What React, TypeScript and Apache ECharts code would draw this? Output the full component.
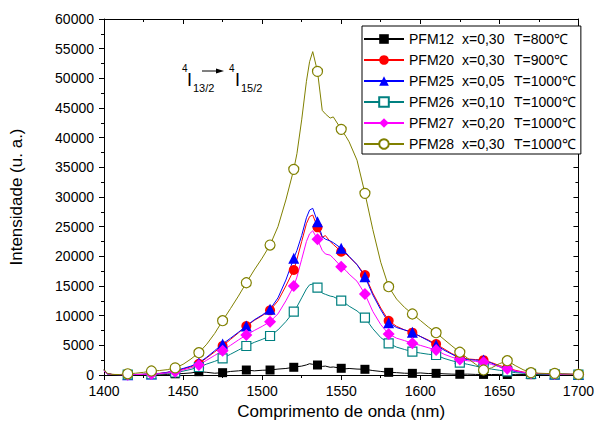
import React, { useEffect, useRef } from 'react';
import * as echarts from 'echarts';

// Wavelength grid (nm)
const wavelength = [
  1400, 1402, 1405, 1410, 1415, 1420, 1425, 1430, 1435, 1440, 1445, 1450, 1455, 1460, 1465, 1470,
  1475, 1480, 1485, 1490, 1495, 1500, 1505, 1510, 1515, 1520, 1522, 1525, 1528, 1530, 1532, 1535,
  1538, 1540, 1543, 1545, 1550, 1553, 1555, 1560, 1565, 1570, 1575, 1580, 1585, 1590, 1595, 1600,
  1605, 1610, 1615, 1620, 1625, 1630, 1635, 1640, 1645, 1650, 1655, 1660, 1665, 1670, 1675, 1680,
  1685, 1690, 1695, 1700,
];

// Wavelengths where the markers are drawn
const markerWavelengths = [
  1415, 1430, 1445, 1460, 1475, 1490, 1505, 1520, 1535, 1550, 1565, 1580, 1595, 1610, 1625, 1640,
  1655, 1670, 1685, 1700,
];

const pfm12 = [
  900, 200, 100, 50, 80, 50, 100, 80, 150, 100, 200, 250, 350, 560, 450, 300,
  390, 600, 700, 840, 700, 800, 840, 1000, 1100, 1300, 1400, 1500, 1700, 1900, 1800, 1685,
  1450, 1500, 1300, 1350, 1130, 1050, 1100, 1000, 960, 750, 600, 450, 400, 300, 280, 350,
  250, 280, 200, 150, 120, 150, 100, 100, 80, 100, 80, 60, 80, 50, 60, 50,
  40, 50, 40, 30,
];

const pfm20 = [
  800, 250, 100, 60, 70, 90, 130, 200, 280, 450, 700, 1000, 1400, 1900, 2900, 3900,
  4900, 6000, 7100, 8260, 9200, 10000, 10900, 12500, 15000, 17690, 19500, 22500, 25500, 26700, 26960, 24890,
  23200, 23500, 22500, 22000, 20780, 20400, 19900, 18600, 16850, 13800, 11300, 9150, 8200, 7600, 7130, 6500,
  5900, 5220, 4400, 3600, 3000, 2700, 2600, 2500, 2100, 1600, 1200, 800, 500, 350, 250, 200,
  180, 150, 120, 100,
];

const pfm25 = [
  800, 200, 80, 50, 60, 80, 120, 180, 250, 450, 750, 1100, 1500, 2070, 3000, 4100,
  5220, 6200, 7200, 8260, 9300, 10100, 11070, 13000, 16000, 19660, 21000, 23500, 26500, 27800, 28090, 25830,
  23300, 22900, 22600, 22300, 21350, 20600, 20000, 18600, 16560, 13500, 11000, 8810, 8000, 7600, 7200, 6500,
  5800, 5055, 4200, 3500, 2810, 2600, 2500, 2530, 2000, 1400, 900, 600, 400, 300, 250, 200,
  150, 150, 120, 100,
];

const pfm26 = [
  700, 200, 80, 50, 50, 60, 90, 130, 180, 280, 420, 650, 950, 1350, 1850, 2300,
  2810, 3500, 4200, 4890, 5500, 6000, 6570, 7600, 9000, 10670, 11500, 13000, 14500, 15200, 15330, 14710,
  13800, 13600, 13300, 13200, 12520, 12000, 11600, 10800, 9660, 7800, 6300, 5340, 4700, 4300, 3930, 3700,
  3500, 3370, 2800, 2400, 2070, 1800, 1500, 1200, 1000, 800, 600, 400, 300, 200, 150, 120,
  100, 100, 80, 80,
];

const pfm27 = [
  700, 200, 80, 50, 50, 70, 100, 150, 220, 350, 550, 850, 1200, 1680, 2500, 3300,
  4100, 5000, 5900, 6740, 7500, 8200, 8980, 10300, 12500, 15000, 16500, 19500, 22500, 23800, 24300, 22860,
  21000, 20400, 20200, 19700, 18250, 17600, 17000, 15800, 13650, 10700, 8500, 6910, 6200, 5800, 5340, 5000,
  4600, 4210, 3500, 3000, 2600, 2400, 2300, 2150, 1800, 1400, 1050, 700, 450, 300, 250, 200,
  150, 120, 100, 100,
];

const pfm28 = [
  900, 300, 100, 80, 200, 300, 450, 670, 750, 900, 1200, 1800, 2700, 3760, 5200, 7000,
  9150, 11200, 13300, 15550, 17700, 19700, 21900, 25000, 29500, 34660, 37300, 43000, 49500, 52800, 54500, 51170,
  44600, 44000, 43300, 43500, 41400, 40200, 39300, 36200, 30620, 24500, 19000, 14880, 12800, 11400, 10280, 9200,
  8100, 7130, 6000, 4900, 3830, 2800, 1800, 840, 1200, 1900, 2410, 1600, 900, 390, 300, 250,
  280, 200, 150, 100,
];

const sampleNames = ['PFM12', 'PFM20', 'PFM25', 'PFM26', 'PFM27', 'PFM28'];
const compositions = ['x=0,30', 'x=0,30', 'x=0,05', 'x=0,10', 'x=0,20', 'x=0,30'];
const temperatures = ['T=800℃', 'T=900℃', 'T=1000℃', 'T=1000℃', 'T=1000℃', 'T=1000℃'];
const seriesValues = [pfm12, pfm20, pfm25, pfm26, pfm27, pfm28];

const FONT = '"Liberation Sans", Arial, Helvetica, sans-serif';

const looks = [
  { color: '#000000', symbol: 'rect', size: 9, fill: '#000000' },
  { color: '#ff0000', symbol: 'circle', size: 10, fill: '#ff0000' },
  { color: '#0000ff', symbol: 'triangle', size: 11, fill: '#0000ff' },
  { color: '#008080', symbol: 'rect', size: 9, fill: '#ffffff' },
  { color: '#ff00ff', symbol: 'diamond', size: 12, fill: '#ff00ff' },
  { color: '#808000', symbol: 'circle', size: 10, fill: '#ffffff' },
];

export default function App() {
  const ref = useRef<HTMLDivElement>(null);

  useEffect(() => {
    document.body.style.margin = '0';
    if (!ref.current) return;
    const chart = echarts.init(ref.current, undefined, { renderer: 'svg' });
    const markerSet = new Set(markerWavelengths);

    const series = sampleNames.map((name, k) => {
      const lk = looks[k];
      const vals = seriesValues[k];
      return {
        name,
        type: 'line',
        xAxisIndex: 0,
        yAxisIndex: 0,
        showAllSymbol: true,
        symbol: lk.symbol,
        symbolSize: lk.size,
        lineStyle: { color: lk.color, width: 1 },
        itemStyle: { color: lk.fill, borderColor: lk.color, borderWidth: lk.fill === '#ffffff' ? 1.2 : 0 },
        emphasis: { disabled: true },
        data: wavelength.map((x, i) =>
          markerSet.has(x) ? [x, vals[i]] : { value: [x, vals[i]], symbol: 'none' }
        ),
      };
    });

    const axisLine = { show: true, onZero: false, lineStyle: { color: '#000', width: 1 } };

    chart.setOption({
      animation: false,
      grid: { left: 102, right: 15, top: 19, bottom: 55, containLabel: false },
      legend: {
        data: sampleNames,
        orient: 'vertical',
        left: 362,
        top: 26,
        padding: [6, 5, 3, 1],
        itemGap: 7,
        itemWidth: 40,
        itemHeight: 12,
        borderColor: '#000',
        borderWidth: 1,
        backgroundColor: '#fff',
        selectedMode: false,
        formatter: (name: string) => {
          const i = sampleNames.indexOf(name);
          return `{a|${name}}{b|${compositions[i]}}{c|${temperatures[i]}}`;
        },
        textStyle: {
          fontSize: 14,
          fontFamily: FONT,
          color: '#000',
          lineHeight: 14,
          rich: {
            a: { width: 53, fontSize: 14, lineHeight: 14, fontFamily: FONT, color: '#000' },
            b: { width: 52, fontSize: 14, lineHeight: 14, fontFamily: FONT, color: '#000' },
            c: { fontSize: 14, lineHeight: 14, fontFamily: FONT, color: '#000' },
          },
        },
      },
      xAxis: [
        {
          type: 'value',
          position: 'bottom',
          min: 1400,
          max: 1700,
          interval: 50,
          axisLine,
          axisTick: { show: true, inside: false, length: 5, lineStyle: { color: '#000' } },
          minorTick: { show: true, splitNumber: 2, length: 3, lineStyle: { color: '#000' } },
          splitLine: { show: false },
          axisLabel: {
            fontSize: 14,
            fontFamily: FONT,
            color: '#000',
            margin: 9,
            formatter: (v: number) => String(v),
          },
          name: 'Comprimento de onda (nm)',
          nameLocation: 'middle',
          nameGap: 28,
          nameTextStyle: { fontSize: 17, fontFamily: FONT, color: '#000' },
        },
        {
          type: 'value',
          position: 'top',
          min: 1400,
          max: 1700,
          interval: 50,
          axisLine,
          axisTick: { show: true, inside: true, length: 5, lineStyle: { color: '#000' } },
          minorTick: { show: true, splitNumber: 2, length: 3, lineStyle: { color: '#000' } },
          splitLine: { show: false },
          axisLabel: { show: false },
        },
      ],
      yAxis: [
        {
          type: 'value',
          position: 'left',
          min: 0,
          max: 60000,
          interval: 5000,
          axisLine,
          axisTick: { show: true, inside: false, length: 5, lineStyle: { color: '#000' } },
          minorTick: { show: true, splitNumber: 2, length: 3, lineStyle: { color: '#000' } },
          splitLine: { show: false },
          axisLabel: {
            fontSize: 14,
            fontFamily: FONT,
            color: '#000',
            margin: 10,
            formatter: (v: number) => String(v),
          },
          name: 'Intensidade (u. a.)',
          nameLocation: 'middle',
          nameGap: 79,
          nameTextStyle: { fontSize: 17, fontFamily: FONT, color: '#000' },
        },
        {
          type: 'value',
          position: 'right',
          min: 0,
          max: 60000,
          interval: 5000,
          axisLine,
          axisTick: { show: true, inside: true, length: 5, lineStyle: { color: '#000' } },
          minorTick: { show: true, splitNumber: 2, length: 3, lineStyle: { color: '#000' } },
          splitLine: { show: false },
          axisLabel: { show: false },
        },
      ],
      graphic: [
        { type: 'text', left: 182, top: 63, style: { text: '4', fontSize: 10, fontFamily: FONT, fill: '#000' } },
        { type: 'text', left: 187, top: 71, style: { text: 'I', fontSize: 18, fontFamily: FONT, fill: '#000' } },
        { type: 'text', left: 193, top: 82, style: { text: '13/2', fontSize: 11, fontFamily: FONT, fill: '#000' } },
        {
          type: 'line',
          shape: { x1: 202, y1: 71, x2: 218, y2: 71 },
          style: { stroke: '#000', lineWidth: 1 },
        },
        {
          type: 'polygon',
          shape: { points: [[216, 68.5], [224, 71], [216, 73.5]] },
          style: { fill: '#000' },
        },
        { type: 'text', left: 229, top: 63, style: { text: '4', fontSize: 10, fontFamily: FONT, fill: '#000' } },
        { type: 'text', left: 235, top: 71, style: { text: 'I', fontSize: 18, fontFamily: FONT, fill: '#000' } },
        { type: 'text', left: 241, top: 82, style: { text: '15/2', fontSize: 11, fontFamily: FONT, fill: '#000' } },
      ],
      series,
    });

    return () => chart.dispose();
  }, []);

  return <div ref={ref} style={{ width: 597, height: 430 }} />;
}
